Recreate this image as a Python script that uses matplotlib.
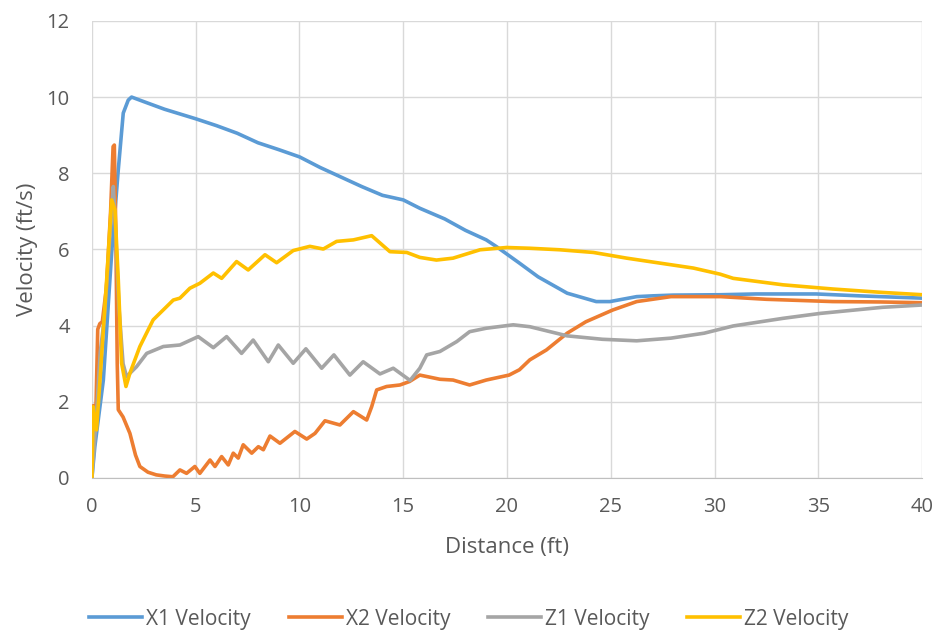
import numpy as np
import matplotlib.pyplot as plt

# Velocity traces vs distance along the run
x1_dist = [0.0, 0.14, 0.55, 0.95, 1.27, 1.51, 1.75, 1.91, 2.5, 3.5, 5.0, 6.0, 7.0, 8.0, 9.0,
           10.0, 11.0, 12.0, 13.0, 14.0, 15.0, 15.8, 17.0, 18.0, 19.0, 19.5, 20.6, 21.5,
           22.9, 24.3, 24.96, 26.25, 27.0, 28.0, 30.3, 32.0, 34.9, 37.0, 40.0]
x1_vel = [0.0, 0.82, 2.57, 5.9, 8.09, 9.58, 9.92, 10.0, 9.88, 9.68, 9.43, 9.25, 9.05, 8.8, 8.62,
          8.43, 8.15, 7.9, 7.65, 7.42, 7.3, 7.08, 6.8, 6.5, 6.25, 6.07, 5.64, 5.28,
          4.85, 4.63, 4.63, 4.76, 4.78, 4.8, 4.81, 4.83, 4.83, 4.78, 4.72]

x2_dist = [0.0, 0.08, 0.18, 0.28, 0.38, 0.5, 0.7, 0.9, 1.02, 1.08, 1.15, 1.22, 1.27, 1.5, 1.83,
           2.1, 2.31, 2.7, 3.1, 3.5, 3.9, 4.24, 4.56, 4.96, 5.2, 5.69, 5.93, 6.25, 6.57,
           6.81, 7.05, 7.29, 7.7, 8.02, 8.26, 8.58, 9.06, 9.78, 10.35, 10.75, 11.23, 11.95,
           12.6, 13.24, 13.48, 13.72, 14.2, 14.84, 15.3, 15.8, 16.77, 17.4, 18.2, 19.0,
           20.1, 20.6, 21.1, 21.9, 22.9, 23.8, 25.1, 26.25, 27.9, 29.6, 30.3, 32.5, 35.7,
           38.0, 40.0]
x2_vel = [0.0, 1.9, 1.5, 3.9, 4.05, 4.1, 5.0, 7.0, 8.7, 8.74, 6.5, 3.0, 1.79, 1.6, 1.17,
          0.6, 0.3, 0.15, 0.08, 0.05, 0.03, 0.21, 0.12, 0.3, 0.12, 0.47, 0.3, 0.56, 0.34,
          0.65, 0.52, 0.87, 0.65, 0.82, 0.74, 1.1, 0.91, 1.22, 1.02, 1.17, 1.5, 1.39,
          1.74, 1.52, 1.87, 2.31, 2.4, 2.44, 2.53, 2.7, 2.59, 2.57, 2.44, 2.57,
          2.7, 2.84, 3.1, 3.36, 3.8, 4.1, 4.41, 4.63, 4.76, 4.76, 4.76, 4.69, 4.63,
          4.62, 4.6]

z1_dist = [0.0, 0.2, 0.4, 0.6, 0.8, 1.03, 1.1, 1.3, 1.5, 1.67, 2.15, 2.64, 3.44, 4.24, 5.12,
           5.85, 6.49, 7.21, 7.77, 8.5, 8.98, 9.7, 10.31, 11.07, 11.66, 12.43, 13.07, 13.88,
           14.52, 15.33, 15.8, 16.13, 16.77, 17.58, 18.2, 19.0, 20.3, 21.1, 22.9, 24.6,
           26.25, 27.9, 29.5, 30.9, 33.3, 35.1, 38.1, 40.0]
z1_vel = [0.0, 1.5, 3.3, 4.2, 5.8, 7.65, 7.0, 4.5, 3.0, 2.66, 2.92, 3.27, 3.45, 3.49, 3.71,
          3.42, 3.71, 3.27, 3.62, 3.05, 3.49, 3.01, 3.39, 2.88, 3.23, 2.7, 3.05, 2.73,
          2.88, 2.56, 2.88, 3.23, 3.32, 3.58, 3.84, 3.93, 4.02, 3.97, 3.73, 3.64,
          3.6, 3.67, 3.8, 3.99, 4.19, 4.32, 4.48, 4.54]

z2_dist = [0.0, 0.06, 0.22, 0.39, 0.71, 0.95, 1.11, 1.27, 1.43, 1.64, 1.83, 2.31, 2.95, 3.92,
           4.24, 4.72, 5.2, 5.85, 6.25, 6.97, 7.53, 8.34, 8.9, 9.7, 10.5, 11.15, 11.79,
           12.6, 13.48, 14.36, 15.17, 15.8, 16.6, 17.4, 18.7, 19.98, 21.1, 22.55, 24.16,
           25.77, 27.37, 28.98, 30.27, 30.9, 33.3, 35.7, 38.1, 40.0]
z2_vel = [0.0, 1.87, 1.26, 2.57, 5.2, 7.3, 7.04, 5.2, 3.01, 2.4, 2.75, 3.45, 4.15, 4.67,
          4.72, 4.98, 5.11, 5.38, 5.24, 5.68, 5.46, 5.86, 5.65, 5.97, 6.08, 6.01, 6.21,
          6.25, 6.36, 5.94, 5.92, 5.79, 5.72, 5.77, 5.99, 6.05, 6.03, 5.99, 5.92,
          5.77, 5.64, 5.51, 5.35, 5.24, 5.07, 4.96, 4.87, 4.81]

series = [
    ("X1 Velocity", x1_dist, x1_vel, "#5B9BD5"),
    ("X2 Velocity", x2_dist, x2_vel, "#ED7D31"),
    ("Z1 Velocity", z1_dist, z1_vel, "#A5A5A5"),
    ("Z2 Velocity", z2_dist, z2_vel, "#FFC000"),
]

plt.rcParams['font.family'] = ['Open Sans', 'DejaVu Sans']
txt = "#595959"

fig = plt.figure(figsize=(9.38, 6.33), dpi=100)
ax = fig.add_axes([0.098, 0.245, 0.885, 0.722])

for name, xs, ys, col in series:
    ax.plot(xs, ys, color=col, lw=2.6, label=name, solid_joinstyle='round')

ax.set_xlim(0, 40)
ax.set_ylim(0, 12)
ax.set_xticks(np.arange(0, 41, 5))
ax.set_yticks(np.arange(0, 13, 2))
ax.grid(True, color="#D9D9D9", lw=1.0)
ax.set_axisbelow(True)
for s in ["top", "right", "left"]:
    ax.spines[s].set_visible(False)
ax.spines["bottom"].set_color("#BFBFBF")
ax.tick_params(length=0, labelsize=14.5, labelcolor=txt)
ax.tick_params(axis='x', pad=14)
ax.tick_params(axis='y', pad=16)

ax.set_xlabel("Distance (ft)", fontsize=16, color=txt)
ax.set_ylabel("Velocity (ft/s)", fontsize=16, color=txt)
ax.xaxis.set_label_coords(0.5, -0.153)
ax.xaxis.label.set_va('center')
ax.yaxis.set_label_coords(-0.078, 0.5)
ax.yaxis.label.set_va('center')

fig.legend(loc="center", ncol=4, frameon=False, fontsize=15,
           bbox_to_anchor=(0.5, 14 / 633), handlelength=2.55, columnspacing=1.8,
           handletextpad=0.2, labelcolor=txt)

fig.savefig("out.png", dpi=100)
